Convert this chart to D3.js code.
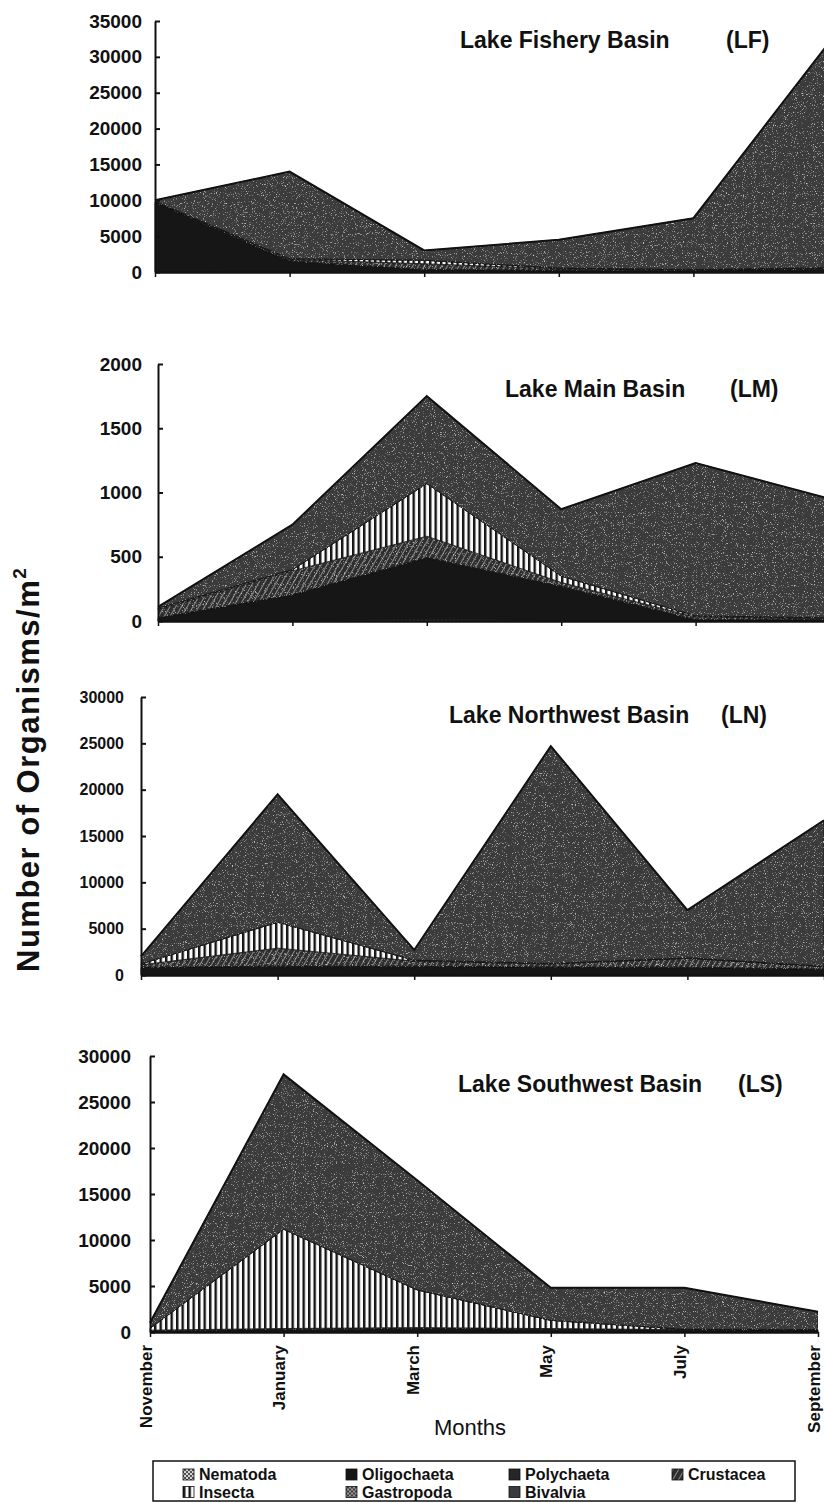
<!DOCTYPE html>
<html>
<head>
<meta charset="utf-8">
<script src="https://cdn.jsdelivr.net/npm/d3@7"></script>
<style>
  body { margin: 0; background: #fff; }
  svg { display: block; }
  text { font-family: "Liberation Sans", Arial, sans-serif; fill: #111; }
</style>
</head>
<body>
<svg width="824" height="1503"></svg>
<script>
// Data set
var months = ["November", "January", "March", "May", "July", "September"];
var taxa = ["Nematoda", "Oligochaeta", "Polychaeta", "Crustacea", "Insecta", "Gastropoda", "Bivalvia"];

// organisms / m2, one array per taxon, months as above
var lfBasin = {
	Nematoda:    [50, 100, 100, 50, 50, 100],
	Oligochaeta: [9700, 1400, 200, 200, 200, 300],
	Polychaeta:  [0, 50, 50, 0, 0, 0],
	Crustacea:   [100, 200, 800, 200, 100, 200],
	Insecta:     [0, 100, 500, 100, 0, 0],
	Gastropoda:  [0, 0, 0, 0, 0, 0],
	Bivalvia:    [150, 12150, 1350, 3950, 7150, 31200]
};
var lmBasin = {
	Nematoda:    [5, 5, 10, 5, 0, 0],
	Oligochaeta: [20, 200, 480, 260, 10, 10],
	Polychaeta:  [0, 0, 5, 5, 0, 0],
	Crustacea:   [65, 185, 165, 30, 20, 10],
	Insecta:     [10, 10, 410, 50, 10, 5],
	Gastropoda:  [0, 0, 0, 0, 0, 0],
	Bivalvia:    [10, 350, 680, 520, 1190, 925]
};
var lnBasin = {
	Nematoda:    [30, 50, 40, 60, 40, 30],
	Oligochaeta: [800, 900, 900, 800, 800, 600],
	Polychaeta:  [0, 20, 0, 0, 0, 0],
	Crustacea:   [270, 1930, 560, 340, 960, 270],
	Insecta:     [100, 2800, 100, 50, 50, 50],
	Gastropoda:  [0, 0, 0, 0, 0, 0],
	Bivalvia:    [800, 13800, 1100, 23450, 5150, 15750]
};
var lsBasin = {
	Nematoda:    [20, 30, 30, 20, 10, 10],
	Oligochaeta: [150, 250, 350, 300, 200, 200],
	Polychaeta:  [0, 0, 0, 0, 0, 0],
	Crustacea:   [30, 100, 100, 50, 50, 30],
	Insecta:     [200, 10800, 4100, 900, 40, 0],
	Gastropoda:  [0, 0, 0, 0, 0, 0],
	Bivalvia:    [600, 16820, 11920, 3530, 4500, 1960]
};

var basinNames = ["Lake Fishery Basin", "Lake Main Basin", "Lake Northwest Basin", "Lake Southwest Basin"];
var basinCodes = ["(LF)", "(LM)", "(LN)", "(LS)"];
var yTicksLF = [0, 5000, 10000, 15000, 20000, 25000, 30000, 35000];
var yTicksLM = [0, 500, 1000, 1500, 2000];
var yTicksLN = [0, 5000, 10000, 15000, 20000, 25000, 30000];
var yTicksLS = [0, 5000, 10000, 15000, 20000, 25000, 30000];

// Panel layout (pixels)
var panels = [
	{data: lfBasin, ticks: yTicksLF, left: 155, right: 828, bottom: 272, top: 21,   font: 19, pad: 13, titleX: 460, codeX: 726, titleY: 48},
	{data: lmBasin, ticks: yTicksLM, left: 158, right: 830, bottom: 621, top: 364,  font: 19, pad: 16, titleX: 505, codeX: 730, titleY: 397},
	{data: lnBasin, ticks: yTicksLN, left: 141, right: 824, bottom: 975, top: 697,  font: 16, pad: 17, titleX: 449, codeX: 721, titleY: 723},
	{data: lsBasin, ticks: yTicksLS, left: 150, right: 818, bottom: 1332, top: 1056, font: 19, pad: 19, titleX: 458, codeX: 738, titleY: 1092}
];

var svg = d3.select("svg");
var defs = svg.append("defs");

// speckled grain like the scanned grey tone
var grain = defs.append("filter").attr("id", "grain")
	.attr("x", 0).attr("y", 0).attr("width", 1).attr("height", 1);
grain.append("feTurbulence").attr("type", "fractalNoise").attr("baseFrequency", 0.9)
	.attr("numOctaves", 2).attr("seed", 7).attr("result", "noise");
grain.append("feColorMatrix").attr("in", "noise").attr("type", "matrix")
	.attr("values", "0 0 0 0 0.75  0 0 0 0 0.75  0 0 0 0 0.75  3.2 0 0 0 -1.95")
	.attr("result", "specks");
grain.append("feComposite").attr("in", "specks").attr("in2", "SourceAlpha")
	.attr("operator", "in").attr("result", "clipped");
var merge = grain.append("feMerge");
merge.append("feMergeNode").attr("in", "SourceGraphic");
merge.append("feMergeNode").attr("in", "clipped");

function stripes(id, bg, fg, size, width, angle) {
	var p = defs.append("pattern").attr("id", id)
		.attr("patternUnits", "userSpaceOnUse")
		.attr("width", size).attr("height", size)
		.attr("patternTransform", "rotate(" + angle + ")");
	p.append("rect").attr("width", size).attr("height", size).attr("fill", bg);
	p.append("rect").attr("width", width).attr("height", size).attr("fill", fg);
}
function cross(id, bg, fg) {
	var p = defs.append("pattern").attr("id", id)
		.attr("patternUnits", "userSpaceOnUse").attr("width", 4).attr("height", 4);
	p.append("rect").attr("width", 4).attr("height", 4).attr("fill", bg);
	p.append("path").attr("d", "M0,0L4,4M4,0L0,4").attr("stroke", fg).attr("stroke-width", 0.8);
}
stripes("insecta", "#fafafa", "#141414", 5.5, 2.4, 0);
stripes("crustacea", "#2e2e2e", "#8a8a8a", 5, 1, 30);
cross("nematoda", "#d0d0d0", "#333");
cross("gastropoda", "#9a9a9a", "#222");

var fills = {
	Nematoda: "url(#nematoda)",
	Oligochaeta: "#161616",
	Polychaeta: "#262626",
	Crustacea: "url(#crustacea)",
	Insecta: "url(#insecta)",
	Gastropoda: "url(#gastropoda)",
	Bivalvia: "#3b3b3b"
};

panels.forEach(function(p, pi) {
	var rows = months.map(function(m, i) {
		var r = {month: m};
		taxa.forEach(function(t) { r[t] = p.data[t][i]; });
		return r;
	});

	var xScale = d3.scalePoint().domain(months).range([p.left, p.right]);
	var yScale = d3.scaleLinear().domain([0, d3.max(p.ticks)]).range([p.bottom, p.top]);

	var series = d3.stack().keys(taxa)(rows);
	var area = d3.area()
		.x(function(d) { return xScale(d.data.month); })
		.y0(function(d) { return yScale(d[0]); })
		.y1(function(d) { return yScale(d[1]); });

	var g = svg.append("g");
	g.selectAll("path.layer")
		.data(series)
		.enter()
		.append("path")
		.attr("class", "layer")
		.attr("fill", function(d) { return fills[d.key]; })
		.attr("filter", function(d) { return d.key == "Bivalvia" || d.key == "Crustacea" ? "url(#grain)" : null; })
		.attr("stroke", "#151515")
		.attr("stroke-width", 0.8)
		.attr("stroke-linejoin", "round")
		.attr("d", area);

	// dark top edge
	g.append("path")
		.datum(series[series.length - 1])
		.attr("fill", "none")
		.attr("stroke", "#111")
		.attr("stroke-width", 2)
		.attr("d", d3.line()
			.x(function(d) { return xScale(d.data.month); })
			.y(function(d) { return yScale(d[1]); }));

	// y axis, ticks pointing inward
	var yAxis = svg.append("g")
		.attr("transform", "translate(" + p.left + ",0)")
		.call(d3.axisLeft(yScale).tickValues(p.ticks).tickFormat(d3.format("d"))
			.tickSize(-5).tickSizeOuter(0).tickPadding(p.pad));
	yAxis.select(".domain").attr("stroke", "#111").attr("stroke-width", 2);
	yAxis.selectAll(".tick line").attr("stroke", "#111").attr("stroke-width", 2);
	yAxis.selectAll(".tick text")
		.attr("font-size", p.font + "px")
		.attr("font-weight", "bold")
		.style("font-family", "'Liberation Sans', Arial, sans-serif");

	// x axis
	var xAxis = svg.append("g")
		.attr("transform", "translate(0," + p.bottom + ")")
		.call(d3.axisBottom(xScale).tickSize(5).tickSizeOuter(0));
	xAxis.select(".domain").attr("stroke", "#111").attr("stroke-width", 2.5);
	xAxis.selectAll(".tick line").attr("stroke", "#111").attr("stroke-width", 1.5);
	if (pi < panels.length - 1) {
		xAxis.selectAll(".tick text").remove();
	} else {
		xAxis.selectAll(".tick text")
			.attr("transform", "rotate(-90)")
			.attr("x", -13)
			.attr("y", 1)
			.attr("dy", 0)
			.attr("text-anchor", "end")
			.attr("font-size", "17px")
			.attr("font-weight", "bold")
			.style("font-family", "'Liberation Sans', Arial, sans-serif");
	}

	// basin title
	svg.append("text")
		.attr("x", p.titleX).attr("y", p.titleY)
		.attr("font-size", "23px").attr("font-weight", "bold")
		.text(basinNames[pi]);
	svg.append("text")
		.attr("x", p.codeX).attr("y", p.titleY)
		.attr("font-size", "23px").attr("font-weight", "bold")
		.text(basinCodes[pi]);
});

// Axis titles
var yTitle = svg.append("text")
	.attr("transform", "translate(39,972) rotate(-90)")
	.attr("font-size", "31px")
	.attr("font-weight", "bold")
	.attr("letter-spacing", "1.5px");
yTitle.append("tspan").text("Number of Organisms/m");
yTitle.append("tspan").attr("font-size", "19px").attr("dy", -13).text("2");

svg.append("text")
	.attr("x", 470).attr("y", 1435)
	.attr("text-anchor", "middle")
	.attr("font-size", "22px")
	.text("Months");

// Legend
var legendSlots = [[183, 0], [346, 0], [509, 0], [672, 0], [183, 1], [346, 1], [509, 1]];
svg.append("rect")
	.attr("x", 153).attr("y", 1461).attr("width", 642).attr("height", 40)
	.attr("fill", "none").attr("stroke", "#111").attr("stroke-width", 1.5);

var legend = svg.selectAll("g.legend")
	.data(taxa)
	.enter()
	.append("g")
	.attr("class", "legend")
	.attr("transform", function(d, i) {
		return "translate(" + legendSlots[i][0] + "," + (1480 + legendSlots[i][1] * 17.5) + ")";
	});
legend.append("rect")
	.attr("x", 0).attr("y", -11).attr("width", 11).attr("height", 11)
	.attr("fill", function(d) { return fills[d]; })
	.attr("stroke", "#111").attr("stroke-width", 0.8);
legend.append("text")
	.attr("x", 16).attr("y", 0)
	.attr("font-size", "16px")
	.attr("font-weight", "bold")
	.text(function(d) { return d; });
</script>
</body>
</html>
